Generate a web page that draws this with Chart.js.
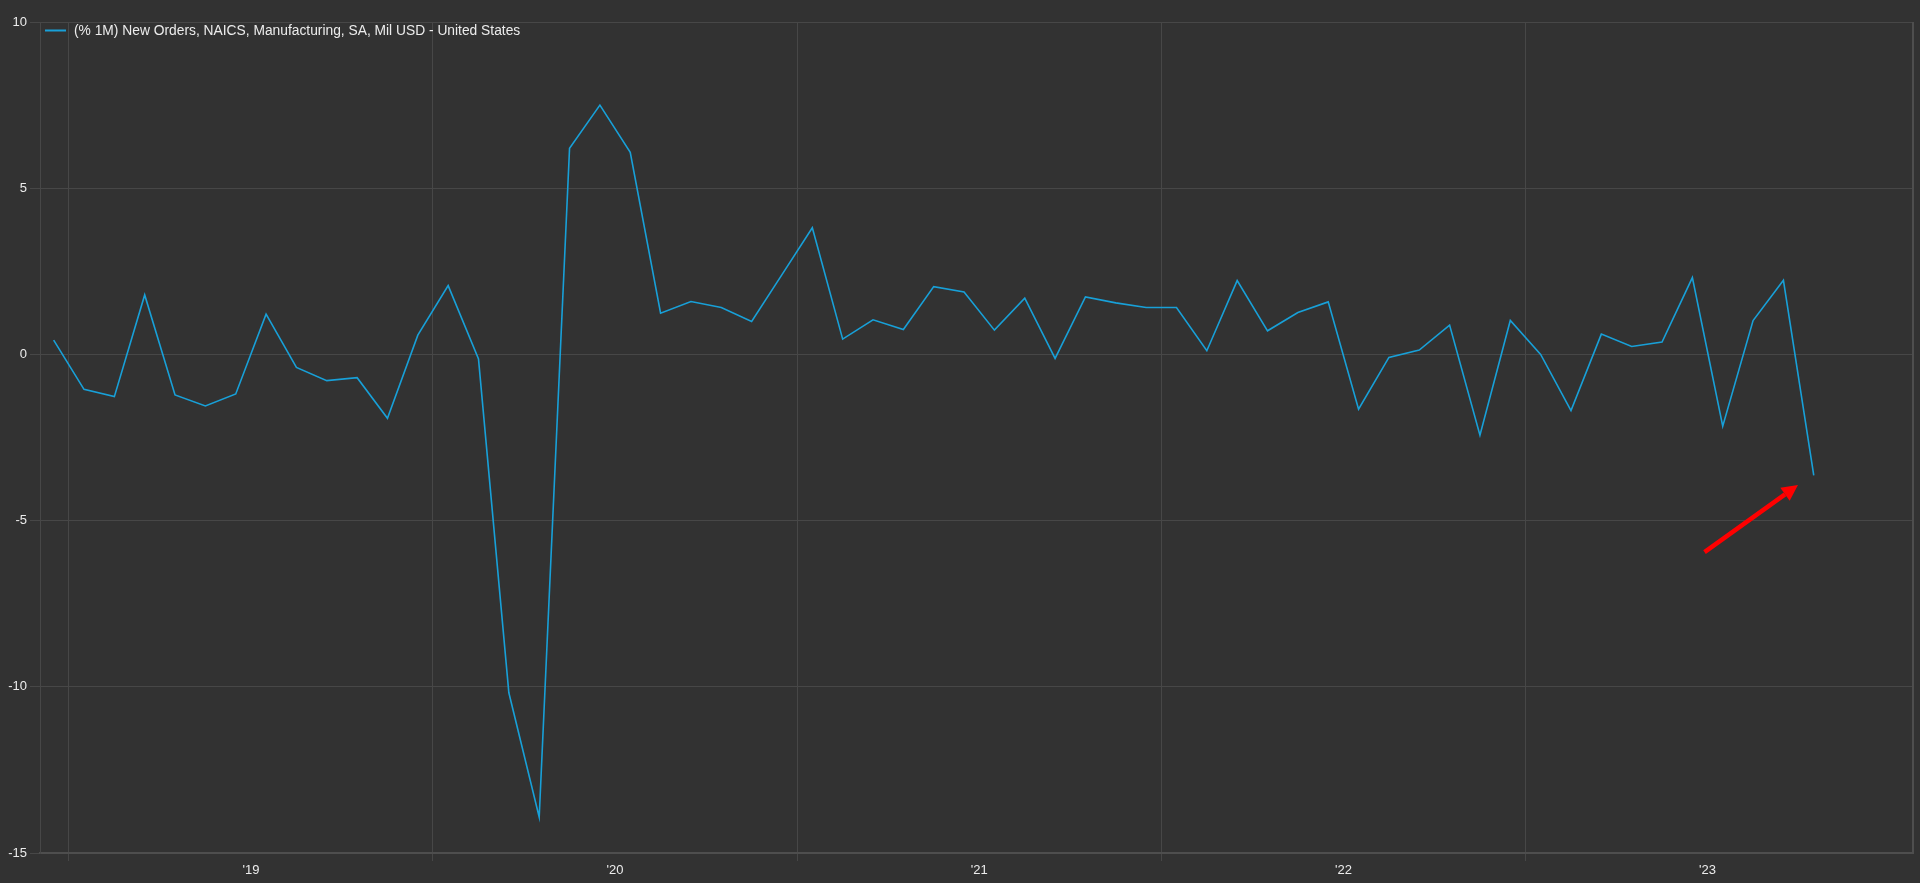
<!DOCTYPE html>
<html lang="en">
  <head>
    <meta charset="UTF-8" />
    <meta name="viewport" content="width=device-width, initial-scale=1.0" />
    <title>New Orders, Manufacturing - United States</title>
    <style>
      html,
      body {
        margin: 0;
        padding: 0;
        background: #323232;
        overflow: hidden;
      }
      .chart {
        width: 1920px;
        height: 883px;
      }
    </style>
  </head>
  <body>
    <script src="https://cdn.jsdelivr.net/npm/chart.js"></script>
    <div class="chart"><canvas id="chart"></canvas></div>

    <script>
      const seriesLabel = "(% 1M) New Orders, NAICS, Manufacturing, SA, Mil USD - United States";

      const months = [
        "2018-12",
        "2019-01", "2019-02", "2019-03", "2019-04", "2019-05", "2019-06",
        "2019-07", "2019-08", "2019-09", "2019-10", "2019-11", "2019-12",
        "2020-01", "2020-02", "2020-03", "2020-04", "2020-05", "2020-06",
        "2020-07", "2020-08", "2020-09", "2020-10", "2020-11", "2020-12",
        "2021-01", "2021-02", "2021-03", "2021-04", "2021-05", "2021-06",
        "2021-07", "2021-08", "2021-09", "2021-10", "2021-11", "2021-12",
        "2022-01", "2022-02", "2022-03", "2022-04", "2022-05", "2022-06",
        "2022-07", "2022-08", "2022-09", "2022-10", "2022-11", "2022-12",
        "2023-01", "2023-02", "2023-03", "2023-04", "2023-05", "2023-06",
        "2023-07", "2023-08", "2023-09", "2023-10",
      ];

      const values = [
        0.43,
        -1.05, -1.27, 1.79, -1.22, -1.55, -1.19,
        1.21, -0.39, -0.79, -0.7, -1.92, 0.58,
        2.07, -0.14, -10.18, -13.92, 6.2, 7.5,
        6.08, 1.24, 1.59, 1.41, 0.99, 2.4,
        3.81, 0.46, 1.04, 0.75, 2.04, 1.88,
        0.73, 1.69, -0.12, 1.73, 1.55, 1.41,
        1.41, 0.11, 2.22, 0.71, 1.26, 1.58,
        -1.65, -0.09, 0.13, 0.88, -2.43, 1.02,
        0.0, -1.69, 0.61, 0.24, 0.37, 2.31,
        -2.16, 1.02, 2.23, -3.64,
      ];

      const yearLabels = ["'19", "'20", "'21", "'22", "'23"];
      const yTicks = [10, 5, 0, -5, -10, -15];

      // red arrow pointing at the latest reading (x in months from Jan 2019, y in %)
      const arrowFrom = { x: 53.9, y: -5.95 };
      const arrowTo = { x: 56.98, y: -3.93 };

      const BLUE = "#18a0d8";
      const GRID = "#474747";
      const BORDER = "#4e4e4e";
      const TEXT = "#ececec";
      const FONT = "'Liberation Sans', Arial, sans-serif";

      // months since Jan 2019, plotted at mid month
      const monthPos = (m) => {
        const [y, mo] = m.split("-").map(Number);
        return (y - 2019) * 12 + (mo - 1) + 0.5;
      };

      const overlay = {
        id: "overlay",
        afterDatasetsDraw(chart) {
          const { ctx, chartArea, scales } = chart;
          ctx.save();

          // right frame line
          ctx.strokeStyle = BORDER;
          ctx.lineWidth = 2;
          ctx.beginPath();
          ctx.moveTo(chartArea.right, chartArea.top);
          ctx.lineTo(chartArea.right, chartArea.bottom);
          ctx.stroke();

          // legend inside the plot
          const lx = chartArea.left + 5;
          const ly = chartArea.top + 8.5;
          ctx.strokeStyle = BLUE;
          ctx.lineWidth = 2;
          ctx.beginPath();
          ctx.moveTo(lx, ly);
          ctx.lineTo(lx + 21, ly);
          ctx.stroke();
          ctx.fillStyle = TEXT;
          ctx.font = "13.8px " + FONT;
          ctx.textBaseline = "middle";
          ctx.textAlign = "left";
          ctx.fillText(seriesLabel, lx + 29, ly + 0.5);

          // arrow
          const x1 = scales.x.getPixelForValue(arrowFrom.x);
          const y1 = scales.y.getPixelForValue(arrowFrom.y);
          const x2 = scales.x.getPixelForValue(arrowTo.x);
          const y2 = scales.y.getPixelForValue(arrowTo.y);
          const ang = Math.atan2(y2 - y1, x2 - x1);
          const head = 16;
          const bx = x2 - head * Math.cos(ang);
          const by = y2 - head * Math.sin(ang);
          ctx.strokeStyle = "#ff0000";
          ctx.fillStyle = "#ff0000";
          ctx.lineWidth = 4.5;
          ctx.lineCap = "butt";
          ctx.beginPath();
          ctx.moveTo(x1, y1);
          ctx.lineTo(bx, by);
          ctx.stroke();
          ctx.beginPath();
          ctx.moveTo(x2, y2);
          ctx.lineTo(bx + 8 * Math.sin(ang), by - 8 * Math.cos(ang));
          ctx.lineTo(bx - 8 * Math.sin(ang), by + 8 * Math.cos(ang));
          ctx.closePath();
          ctx.fill();

          ctx.restore();
        },
      };

      window.onload = () => {
        const ctx = document.getElementById("chart");
        new Chart(ctx, {
          type: "line",
          data: {
            datasets: [
              {
                label: seriesLabel,
                data: months.map((m, i) => ({ x: monthPos(m), y: values[i] })),
                borderColor: BLUE,
                backgroundColor: BLUE,
                borderWidth: 1.6,
                pointRadius: 0,
                tension: 0,
              },
            ],
          },
          options: {
            responsive: true,
            maintainAspectRatio: false,
            animation: false,
            layout: { padding: { top: 22, right: 7, left: 0, bottom: 0 } },
            plugins: {
              legend: { display: false },
              tooltip: { enabled: false },
            },
            scales: {
              x: {
                type: "linear",
                min: -0.95,
                max: 60.77,
                afterBuildTicks: (axis) => {
                  const t = [];
                  yearLabels.forEach((l, i) => {
                    t.push({ value: i * 12 });
                    t.push({ value: i * 12 + 6 });
                  });
                  axis.ticks = t;
                },
                afterFit: (axis) => {
                  axis.height = 30;
                },
                grid: {
                  color: (c) => (c.tick && c.tick.value % 12 === 0 ? GRID : "rgba(0,0,0,0)"),
                  tickLength: 8,
                },
                border: { display: true, color: BORDER, width: 2 },
                ticks: {
                  autoSkip: false,
                  maxRotation: 0,
                  padding: 2,
                  color: TEXT,
                  font: { family: FONT, size: 13 },
                  callback: (v) => (v % 12 === 6 ? yearLabels[(v - 6) / 12] : ""),
                },
              },
              y: {
                min: -15,
                max: 10,
                afterBuildTicks: (axis) => {
                  axis.ticks = yTicks.map((v) => ({ value: v }));
                },
                afterFit: (axis) => {
                  axis.width = 40;
                },
                grid: { color: GRID, tickLength: 10 },
                border: { display: true, color: GRID, width: 1 },
                ticks: {
                  padding: 3,
                  color: TEXT,
                  font: { family: FONT, size: 13 },
                },
              },
            },
          },
          plugins: [overlay],
        });
      };
    </script>
  </body>
</html>
